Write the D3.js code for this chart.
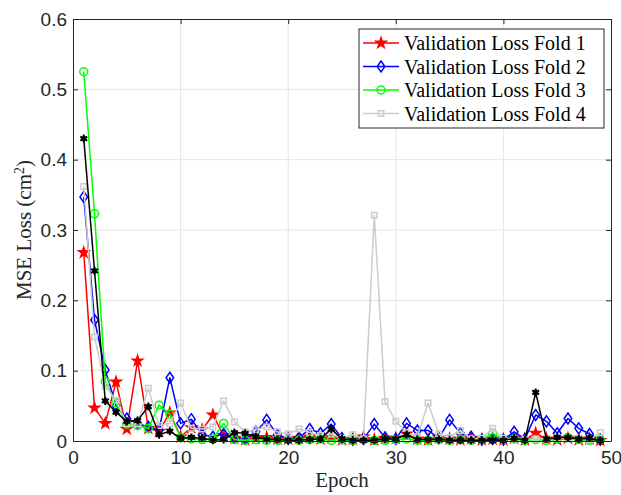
<!DOCTYPE html>
<html lang="en">
<head>
  <meta charset="UTF-8" />
  <title>Validation loss per fold</title>
  <script src="https://d3js.org/d3.v7.min.js"></script>
  <style>
    body { margin: 0; background: #fff; }
    svg { display: block; font-family: "Liberation Serif", "Times New Roman", serif; }
    .grid line { stroke: #e6e6e6; stroke-width: 1; }
    .axis path, .axis line { stroke: #262626; }
    .axis text { font-size: 19px; fill: #262626; }
  </style>
</head>
<body>
  <svg id="chart"></svg>

  <script>
    // epochs 1..49
    const epochs = d3.range(1, 50);

    const fold1 = [0.268,0.047,0.025,0.084,0.017,0.114,0.018,0.014,0.040,0.006,
      0.019,0.016,0.037,0.008,0.004,0.002,0.004,0.005,0.003,0.003,
      0.004,0.006,0.003,0.005,0.002,0.003,0.006,0.002,0.004,0.004,
      0.010,0.003,0.002,0.005,0.003,0.002,0.004,0.002,0.003,0.002,
      0.004,0.002,0.011,0.003,0.002,0.004,0.002,0.003,0.001];

    const fold2 = [0.347,0.172,0.101,0.050,0.032,0.025,0.020,0.016,0.090,0.025,
      0.031,0.009,0.006,0.010,0.005,0.003,0.013,0.030,0.009,0.003,
      0.005,0.017,0.011,0.024,0.004,0.002,0.003,0.024,0.005,0.003,
      0.025,0.015,0.015,0.004,0.030,0.011,0.006,0.002,0.003,0.002,
      0.013,0.003,0.037,0.028,0.011,0.032,0.018,0.010,0.002];

    const fold3 = [0.525,0.323,0.084,0.054,0.024,0.022,0.018,0.051,0.038,0.005,
      0.003,0.002,0.003,0.025,0.002,0.001,0.002,0.001,0.001,0.002,
      0.001,0.002,0.003,0.001,0.002,0.001,0.002,0.001,0.001,0.002,
      0.003,0.001,0.001,0.002,0.001,0.002,0.001,0.002,0.011,0.002,
      0.003,0.001,0.002,0.001,0.003,0.005,0.002,0.001,0.002];

    const fold4 = [0.362,0.148,0.078,0.058,0.025,0.024,0.075,0.022,0.025,0.054,
      0.018,0.017,0.020,0.057,0.027,0.013,0.016,0.020,0.013,0.010,
      0.017,0.012,0.008,0.010,0.004,0.009,0.003,0.321,0.056,0.028,
      0.012,0.006,0.054,0.010,0.005,0.015,0.003,0.004,0.018,0.004,
      0.003,0.002,0.003,0.004,0.005,0.003,0.004,0.002,0.012];

    // extra series without a legend entry
    const fold5 = [0.430,0.242,0.057,0.041,0.028,0.029,0.049,0.009,0.014,0.004,
      0.005,0.004,0.001,0.002,0.012,0.011,0.006,0.002,0.002,0.001,
      0.001,0.002,0.003,0.017,0.003,0.001,0.001,0.001,0.003,0.003,
      0.009,0.002,0.002,0.002,0.001,0.001,0.001,0.001,0.001,0.001,
      0.004,0.001,0.069,0.003,0.005,0.005,0.003,0.004,0.000];

    const seriesNames = ["Validation Loss Fold 1", "Validation Loss Fold 2",
      "Validation Loss Fold 3", "Validation Loss Fold 4", null];
    const seriesValues = [fold1, fold2, fold3, fold4, fold5];

    const xTicks = [0, 10, 20, 30, 40, 50];
    const yTicks = [0, 0.1, 0.2, 0.3, 0.4, 0.5, 0.6];

    const styles = [
      { color: "#ff0000", marker: "star" },
      { color: "#0000ff", marker: "diamond" },
      { color: "#00ff00", marker: "circle" },
      { color: "#cccccc", marker: "square" },
      { color: "#000000", marker: "asterisk" }
    ];

    /* ---- setup ---- */
    const W = 621, H = 495;
    const margin = { top: 19, right: 10, bottom: 54, left: 73 };
    const svg = d3.select("#chart").attr("width", W).attr("height", H);

    const x = d3.scaleLinear().domain([0, 50]).range([margin.left, W - margin.right]);
    const y = d3.scaleLinear().domain([0, 0.6]).range([H - margin.bottom, margin.top]);

    // grid
    const grid = svg.append("g").attr("class", "grid");
    grid.selectAll(".gx").data(xTicks.slice(1, -1)).join("line")
      .attr("x1", d => x(d)).attr("x2", d => x(d))
      .attr("y1", y(0)).attr("y2", y(0.6));
    grid.selectAll(".gy").data(yTicks.slice(1, -1)).join("line")
      .attr("x1", x(0)).attr("x2", x(50))
      .attr("y1", d => y(d)).attr("y2", d => y(d));

    /* ---- series ---- */
    const line = d3.line().x((d, i) => x(epochs[i])).y(d => y(d));

    function markerPath(type) {
      if (type === "star") return d3.symbol(d3.symbolStar, 32)();
      if (type === "diamond") return "M0,-5.5L3.8,0L0,5.5L-3.8,0Z";
      if (type === "circle") return d3.symbol(d3.symbolCircle, 50)();
      if (type === "square") return d3.symbol(d3.symbolSquare, 30)();
      // asterisk
      const r = 4, a = r * 0.866;
      return `M0,${-r}V${r}M${-a},${-r / 2}L${a},${r / 2}M${-a},${r / 2}L${a},${-r / 2}`;
    }

    const plot = svg.append("g");
    seriesValues.forEach((vals, k) => {
      const st = styles[k];
      const g = plot.append("g");
      g.append("path").datum(vals)
        .attr("fill", "none").attr("stroke", st.color).attr("stroke-width", 1.5)
        .attr("stroke-linejoin", "round").attr("d", line);

      g.selectAll("path.m").data(vals).join("path").attr("class", "m")
        .attr("transform", (d, i) => `translate(${x(epochs[i])},${y(d)})`)
        .attr("d", markerPath(st.marker))
        .attr("fill", st.marker === "star" ? st.color : (st.marker === "asterisk" ? "#000" : "none"))
        .attr("stroke", st.color)
        .attr("stroke-width", st.marker === "asterisk" ? 2 : 1.5);
      if (st.marker === "asterisk") {
        g.selectAll("circle.dot").data(vals).join("circle").attr("class", "dot")
          .attr("cx", (d, i) => x(epochs[i])).attr("cy", d => y(d)).attr("r", 2.6)
          .attr("fill", "#000");
      }
    });

    /* ---- axes ---- */
    const fmtY = d => d === 0 ? "0" : d3.format(".1f")(d);
    const ax = svg.append("g").attr("class", "axis");
    ax.append("g").attr("transform", `translate(0,${y(0)})`)
      .call(d3.axisBottom(x).tickValues(xTicks).tickSizeInner(-5).tickSizeOuter(0).tickPadding(10))
      .call(g => g.select(".domain").attr("stroke-width", 1));
    ax.append("g").attr("transform", `translate(${x(0)},0)`)
      .call(d3.axisLeft(y).tickValues(yTicks).tickFormat(fmtY).tickSizeInner(-5).tickSizeOuter(0).tickPadding(6));
    ax.append("g").attr("transform", `translate(0,${y(0.6)})`)
      .call(d3.axisTop(x).tickValues(xTicks).tickSizeInner(-5).tickSizeOuter(0).tickFormat(""));
    ax.append("g").attr("transform", `translate(${x(50)},0)`)
      .call(d3.axisRight(y).tickValues(yTicks).tickSizeInner(-5).tickSizeOuter(0).tickFormat(""));

    // axis titles
    svg.append("text")
      .attr("x", (x(0) + x(50)) / 2).attr("y", H - 8)
      .attr("text-anchor", "middle").attr("font-size", 21).attr("fill", "#262626")
      .text("Epoch");
    const yl = svg.append("text")
      .attr("transform", `translate(31,${(y(0) + y(0.6)) / 2}) rotate(-90)`)
      .attr("text-anchor", "middle").attr("font-size", 21).attr("fill", "#262626");
    yl.append("tspan").text("MSE Loss (cm");
    yl.append("tspan").attr("baseline-shift", "super").attr("font-size", 14).text("2");
    yl.append("tspan").text(")");

    /* ---- legend ---- */
    const lg = svg.append("g").attr("transform", "translate(359,29)");
    lg.append("rect").attr("width", 245).attr("height", 99)
      .attr("fill", "#fff").attr("stroke", "#262626").attr("stroke-width", 1);
    seriesNames.forEach((name, k) => {
      if (!name) return;
      const st = styles[k];
      const cy = 14 + k * 23.5;
      lg.append("line").attr("x1", 4).attr("x2", 40).attr("y1", cy).attr("y2", cy)
        .attr("stroke", st.color).attr("stroke-width", 1.5);
      lg.append("path").attr("transform", `translate(22,${cy})`)
        .attr("d", markerPath(st.marker))
        .attr("fill", st.marker === "star" ? st.color : "none")
        .attr("stroke", st.color).attr("stroke-width", 1.5);
      lg.append("text").attr("x", 45).attr("y", cy + 7)
        .attr("font-size", 20).attr("fill", "#000").text(name);
    });
  </script>
</body>
</html>
